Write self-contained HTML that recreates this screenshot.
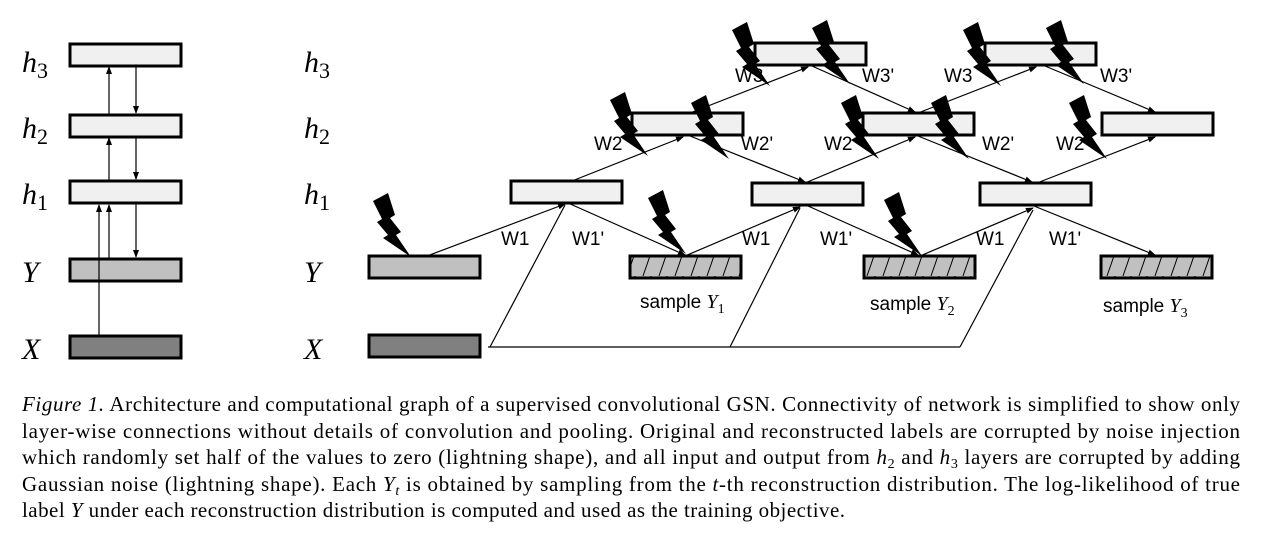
<!DOCTYPE html>
<html><head><meta charset="utf-8"><style>
body{margin:0;background:#fff}
svg{display:block}
.ax{font-family:"Liberation Serif",serif;font-style:italic;font-size:30px}
.w{font-family:"Liberation Sans",sans-serif;font-size:19px}
.cap{font-family:"Liberation Serif",serif;font-size:21px}
</style></head><body>
<svg width="1264" height="546" viewBox="0 0 1264 546">
<defs>
<marker id="ar" markerWidth="8" markerHeight="8" refX="7" refY="4" orient="auto" markerUnits="userSpaceOnUse"><path d="M0,1 L8,4 L0,7 z" fill="#000"/></marker>
<pattern id="hatch" width="16" height="23" patternUnits="userSpaceOnUse"><rect width="16" height="23" fill="#c0c0c0"/><line x1="3" y1="23" x2="11" y2="0" stroke="#000" stroke-width="1"/></pattern>
</defs>
<g id="boxes" stroke="#000" stroke-width="3"></g>
<g id="lines" stroke="#000" stroke-width="1.2" fill="none"></g>
<g id="bolts" fill="#000"></g>
<g id="labels"></g>
<text class="cap">
<tspan x="22" y="411" textLength="1218" lengthAdjust="spacing"><tspan font-style="italic">Figure 1.</tspan> Architecture and computational graph of a supervised convolutional GSN. Connectivity of network is simplified to show only</tspan>
<tspan x="22" y="438" textLength="1218" lengthAdjust="spacing">layer-wise connections without details of convolution and pooling. Original and reconstructed labels are corrupted by noise injection</tspan>
<tspan x="22" y="464" textLength="1218" lengthAdjust="spacing">which randomly set half of the values to zero (lightning shape), and all input and output from <tspan font-style="italic">h</tspan><tspan font-size="14" dy="4">2</tspan><tspan dy="-4"> and </tspan><tspan font-style="italic">h</tspan><tspan font-size="14" dy="4">3</tspan><tspan dy="-4"> layers are corrupted by adding</tspan></tspan>
<tspan x="22" y="491" textLength="1218" lengthAdjust="spacing">Gaussian noise (lightning shape). Each <tspan font-style="italic">Y</tspan><tspan font-size="14" font-style="italic" dy="4">t</tspan><tspan dy="-4"> is obtained by sampling from the </tspan><tspan font-style="italic">t</tspan>-th reconstruction distribution. The log-likelihood of true</tspan>
<tspan x="22" y="517" textLength="823" lengthAdjust="spacing">label <tspan font-style="italic">Y</tspan> under each reconstruction distribution is computed and used as the training objective.</tspan>
</text>
</svg>
<script>
const NS='http://www.w3.org/2000/svg';
function mk(t,a,p){const e=document.createElementNS(NS,t);for(const k in a)e.setAttribute(k,a[k]);document.getElementById(p).appendChild(e);return e;}
const boxes=[
['left-h3',70,44,'#f0f0f0'],['left-h2',70,115,'#f0f0f0'],['left-h1',70,181,'#f0f0f0'],['left-y',70,259,'#c0c0c0'],['left-x',70,336,'#808080'],
['y-box',369,256,'#c0c0c0'],['x-box',369,335,'#808080'],
['h1-t1',511,181,'#f0f0f0'],['h1-t2',752,183,'#f0f0f0'],['h1-t3',980,183,'#f0f0f0'],
['h2-t1',632,113,'#f0f0f0'],['h2-t2',863,113,'#f0f0f0'],['h2-t3',1102,113,'#f0f0f0'],
['h3-t1',755,43,'#f0f0f0'],['h3-t2',985,43,'#f0f0f0'],
['sample-y1',630,256,'url(#hatch)'],['sample-y2',864,256,'url(#hatch)'],['sample-y3',1101,256,'url(#hatch)']];
for(const b of boxes){const r=mk('rect',{x:b[1],y:b[2],width:111,height:22,fill:b[3]},'boxes');

}
const lines=[
[99,336,99,205,1],[109,259,109,205,1],[109,181,109,138,1],[109,115,109,67,1],
[136,65,136,113,1],[136,136,136,179,1],[136,203,136,257,1],
[427,256,565,204,1],[568,203,685,255,1],[490,347,565,205,0],[730,347,800,208,0],[960,347,1033,210,0],
[572,181,683,137,1],[690,136,805,182,1],[690,113,808,67,1],[812,66,915,112,1],
[685,256,800,207,1],[808,206,918,255,1],[805,183,915,137,1],[918,113,1036,67,1],
[1045,66,1155,112,1],[918,136,1032,182,1],[920,256,1033,208,1],[1034,206,1155,255,1],[1037,183,1155,137,1]];
for(const l of lines){const e=mk('line',{x1:l[0],y1:l[1],x2:l[2],y2:l[3]},'lines');if(l[4])e.setAttribute('marker-end','url(#ar)');

}
mk('polyline',{points:'488,347 960,347'},'lines');
const bolt='0,8 15,0 22,22 17,25 28,39 23,42 38,64 10,45 15,42 4,29 9,26';
const bolts=[[373,193],[648,190],[884,192],[610,92],[691,95],[841,95],[931,95],[1069,95],[732,22],[812,20],[963,22],[1046,20]];
for(const b of bolts){const e=mk('polygon',{points:bolt,transform:`translate(${b[0]},${b[1]})`},'bolts');

}
const wl=[['W3',735,82],["W3'",862,82],['W3',944,82],["W3'",1100,82],['W2',594,150],["W2'",741,150],['W2',824,150],["W2'",982,150],['W2',1056,150],
['W1',501,245],["W1'",572,245],['W1',742,245],["W1'",820,245],['W1',976,245],["W1'",1049,245]];
for(const w of wl){const e=mk('text',{x:w[1],y:w[2],class:'w'},'labels');e.textContent=w[0];

}
const ax=[['h','3',22,72],['h','2',22,138],['h','1',22,204],['Y','',22,282],['X','',22,359],['h','3',304,72],['h','2',304,138],['h','1',304,204],['Y','',304,282],['X','',304,359]];
for(const a of ax){const e=mk('text',{x:a[2],y:a[3],class:'ax'},'labels');e.textContent=a[0];
if(a[1]){const s=document.createElementNS(NS,'tspan');s.setAttribute('dy','6');s.setAttribute('font-size','22');s.setAttribute('font-style','normal');s.textContent=a[1];e.appendChild(s);}

}
const sl=[['1',640,308],['2',870,310],['3',1103,312]];
for(const s of sl){const e=mk('text',{x:s[1],y:s[2],class:'w'},'labels');e.innerHTML='sample <tspan font-family="Liberation Serif" font-style="italic" font-size="20">Y</tspan><tspan font-family="Liberation Serif" font-size="14" dy="5">'+s[0]+'</tspan>';

}
</script>
</body></html>
